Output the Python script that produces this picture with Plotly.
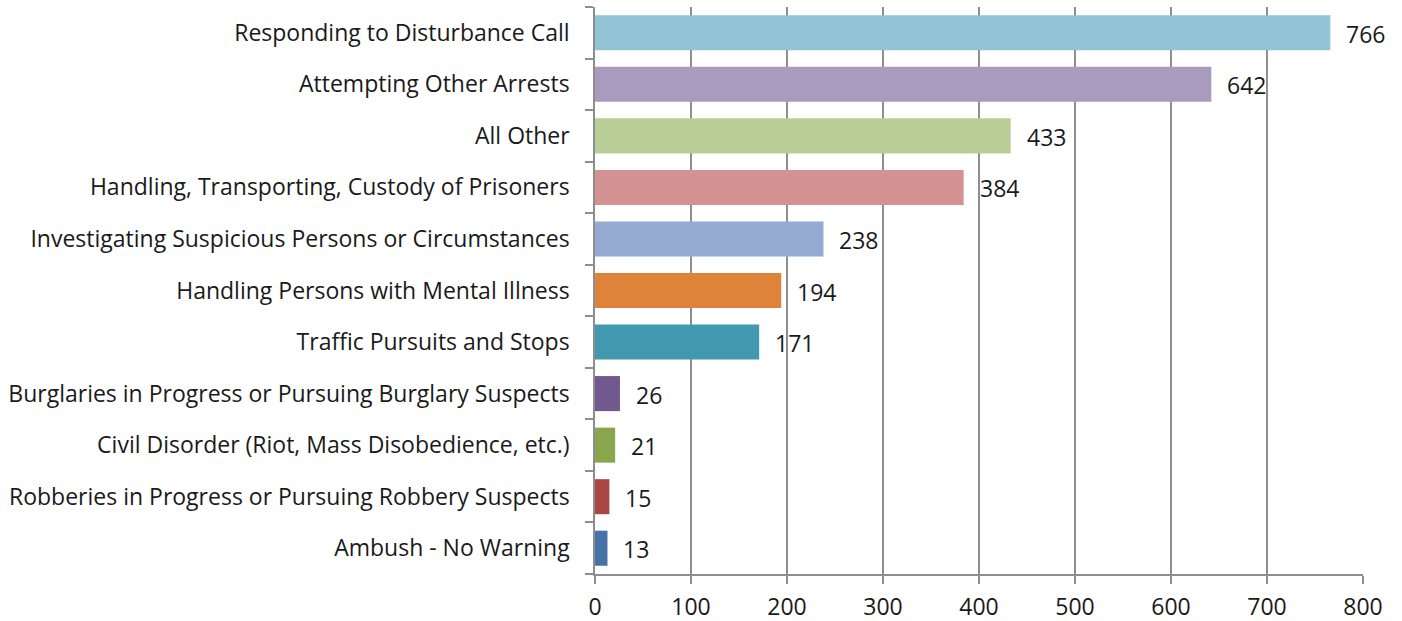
import plotly.graph_objects as go

categories = [
    "Responding to Disturbance Call",
    "Attempting Other Arrests",
    "All Other",
    "Handling, Transporting, Custody of Prisoners",
    "Investigating Suspicious Persons or Circumstances",
    "Handling Persons with Mental Illness",
    "Traffic Pursuits and Stops",
    "Burglaries in Progress or Pursuing Burglary Suspects",
    "Civil Disorder (Riot, Mass Disobedience, etc.)",
    "Robberies in Progress or Pursuing Robbery Suspects",
    "Ambush - No Warning",
]
values = [766, 642, 433, 384, 238, 194, 171, 26, 21, 15, 13]
colors = [
    "#93C4D5", "#A99BBD", "#B9CE96", "#D49392", "#95AAD1", "#DD843A",
    "#4198AF", "#71588F", "#89A54E", "#AA4643", "#4572A7",
]
x_ticks = [0, 100, 200, 300, 400, 500, 600, 700, 800]

FONT = "Open Sans"
GRID = "#8E8E8E"
TXT = 23

fig = go.Figure(
    go.Bar(
        y=categories,
        x=values,
        orientation="h",
        marker=dict(color=colors, line=dict(width=0)),
        width=0.68,
        hoverinfo="x+y",
    )
)

# value labels placed just past each bar end
for cat, val in zip(categories, values):
    fig.add_annotation(
        x=val, y=cat, text=str(val), showarrow=False,
        xanchor="left", yanchor="middle", xshift=14, yshift=-1,
        font=dict(family=FONT, size=TXT, color="#1a1a1a"),
    )

fig.update_layout(
    width=1402, height=621,
    margin=dict(l=595, r=39, t=7, b=47),
    paper_bgcolor="white", plot_bgcolor="white",
    showlegend=False,
    font=dict(family=FONT, size=TXT, color="#1a1a1a"),
    xaxis=dict(
        range=[0, 800], tickvals=x_ticks, automargin=False,
        showgrid=True, gridcolor=GRID, gridwidth=1.5,
        showline=True, linecolor=GRID, linewidth=1.5,
        ticks="outside", ticklen=8, tickcolor=GRID, tickwidth=1.5,
        zeroline=False, tickfont=dict(size=TXT), ticklabelstandoff=4,
    ),
    yaxis=dict(
        categoryorder="array", categoryarray=categories[::-1],
        automargin=False,
        showline=True, linecolor=GRID, linewidth=1.5,
        ticks="outside", ticklen=8, tickcolor=GRID, tickwidth=1.5,
        tickson="boundaries", showgrid=False,
        ticklabelstandoff=19, tickfont=dict(size=TXT),
    ),
)

fig.write_html("out.html")
